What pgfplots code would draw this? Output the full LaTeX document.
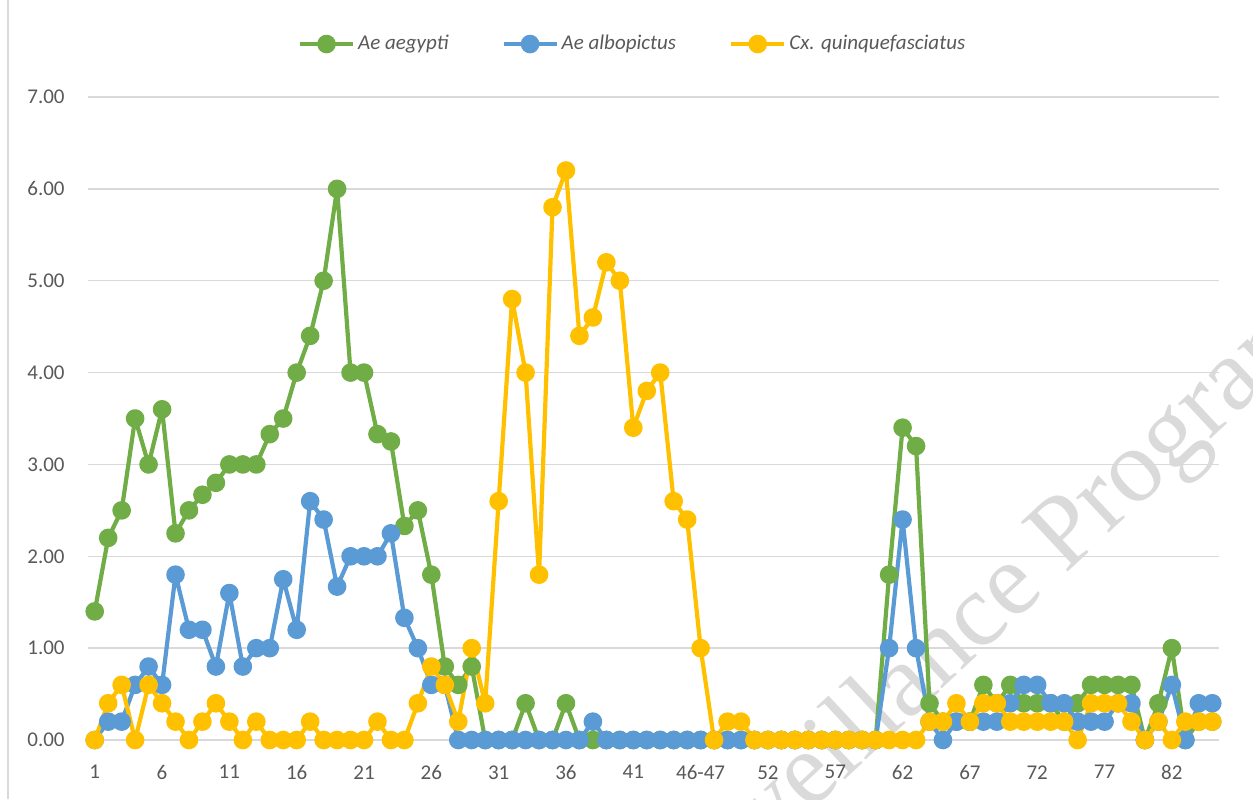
\documentclass[border=0pt]{standalone}
\usepackage{fontspec}
\setmainfont{Carlito}
\newfontfamily\wmfont{Liberation Serif}
\usepackage{pgfplots}
\usepackage{pgfplotstable}
\pgfplotsset{compat=1.18}
\definecolor{aegcol}{HTML}{70AD47}
\definecolor{albcol}{HTML}{5B9BD5}
\definecolor{cxcol}{HTML}{FFC000}
\definecolor{gridcol}{HTML}{D9D9D9}
\definecolor{txtcol}{HTML}{595959}
\definecolor{wmcol}{HTML}{DADADA}

% weekly mean counts; column i is the category position (46-47 merged)
\pgfplotstableread{
i aeg alb cx
0 1.40 0.00 0.00
1 2.20 0.20 0.40
2 2.50 0.20 0.60
3 3.50 0.60 0.00
4 3.00 0.80 0.60
5 3.60 0.60 0.40
6 2.25 1.80 0.20
7 2.50 1.20 0.00
8 2.67 1.20 0.20
9 2.80 0.80 0.40
10 3.00 1.60 0.20
11 3.00 0.80 0.00
12 3.00 1.00 0.20
13 3.33 1.00 0.00
14 3.50 1.75 0.00
15 4.00 1.20 0.00
16 4.40 2.60 0.20
17 5.00 2.40 0.00
18 6.00 1.67 0.00
19 4.00 2.00 0.00
20 4.00 2.00 0.00
21 3.33 2.00 0.20
22 3.25 2.25 0.00
23 2.33 1.33 0.00
24 2.50 1.00 0.40
25 1.80 0.60 0.80
26 0.80 0.60 0.60
27 0.60 0.00 0.20
28 0.80 0.00 1.00
29 0.00 0.00 0.40
30 0.00 0.00 2.60
31 0.00 0.00 4.80
32 0.40 0.00 4.00
33 0.00 0.00 1.80
34 0.00 0.00 5.80
35 0.40 0.00 6.20
36 0.00 0.00 4.40
37 0.00 0.20 4.60
38 0.00 0.00 5.20
39 0.00 0.00 5.00
40 0.00 0.00 3.40
41 0.00 0.00 3.80
42 0.00 0.00 4.00
43 0.00 0.00 2.60
44 0.00 0.00 2.40
45 0.00 0.00 1.00
46 0.00 0.00 0.00
47 0.00 0.00 0.20
48 0.00 0.00 0.20
49 0.00 0.00 0.00
50 0.00 0.00 0.00
51 0.00 0.00 0.00
52 0.00 0.00 0.00
53 0.00 0.00 0.00
54 0.00 0.00 0.00
55 0.00 0.00 0.00
56 0.00 0.00 0.00
57 0.00 0.00 0.00
58 0.00 0.00 0.00
59 1.80 1.00 0.00
60 3.40 2.40 0.00
61 3.20 1.00 0.00
62 0.40 0.20 0.20
63 0.20 0.00 0.20
64 0.20 0.20 0.40
65 0.20 0.20 0.20
66 0.60 0.20 0.40
67 0.40 0.20 0.40
68 0.60 0.40 0.20
69 0.40 0.60 0.20
70 0.40 0.60 0.20
71 0.40 0.40 0.20
72 0.20 0.40 0.20
73 0.40 0.20 0.00
74 0.60 0.20 0.40
75 0.60 0.20 0.40
76 0.60 0.40 0.40
77 0.60 0.40 0.20
78 0.00 0.00 0.00
79 0.40 0.20 0.20
80 1.00 0.60 0.00
81 0.00 0.00 0.20
82 0.20 0.40 0.20
83 0.20 0.40 0.20
}\mosq

\begin{document}
\begin{tikzpicture}
\useasboundingbox (0pt,0pt) rectangle (626.5pt,399.5pt);
% watermark behind the chart
\begin{scope}
\clip (0pt,0pt) rectangle (626.5pt,399.5pt);
\node[anchor=base west, rotate=43, inner sep=0pt, text=wmcol,
      font=\wmfont\fontsize{52}{52}\selectfont] at (333pt,-74pt) {Surveillance Program};
\end{scope}
\draw[gridcol, line width=0.75pt] (4pt,0pt) -- (4pt,399.5pt);
\begin{axis}[
    at={(44pt,29.5pt)}, anchor=south west,
    scale only axis, width=565.5pt, height=321.5pt,
    xmin=-0.5, xmax=83.5, ymin=0, ymax=7,
    axis line style={draw=none},
    major tick length=0pt,
    xtick={0,5,...,80},
    xticklabels={1,6,11,16,21,26,31,36,41,46-47,52,57,62,67,72,77,82},
    ytick={0,1,...,7},
    ymajorgrids, grid style={gridcol, line width=0.75pt},
    tick label style={text=txtcol, font=\fontsize{10.5}{12}\selectfont},
    xticklabel style={anchor=north, inner sep=0pt, yshift=-12.5pt},
    yticklabel style={anchor=east, inner sep=0pt, xshift=-11.5pt},
    /pgf/number format/.cd, fixed, fixed zerofill, precision=2, assume math mode=true,
    /pgfplots/.cd,
    every axis plot/.append style={line width=2.1pt, mark=*, mark size=3.6pt, line join=round},
    legend columns=3,
    legend style={at={(0.482,1.0824)}, anchor=center, draw=none, fill=none,
        font=\itshape\fontsize{10.5}{12}\selectfont, text=txtcol,
        /tikz/every even column/.append style={column sep=25pt},
        nodes={inner sep=1.5pt}},
    legend image code/.code={\draw[mark repeat=2, mark phase=2] plot coordinates {(0pt,0pt) (13.25pt,0pt) (26.5pt,0pt)};},
]
\addplot[aegcol, mark options={fill=aegcol}] table[x=i, y=aeg] {\mosq};
\addplot[albcol, mark options={fill=albcol}] table[x=i, y=alb] {\mosq};
\addplot[cxcol, mark options={fill=cxcol}] table[x=i, y=cx] {\mosq};
\legend{Ae aegypti, Ae albopictus, Cx. quinquefasciatus}
\end{axis}
\end{tikzpicture}
\end{document}
